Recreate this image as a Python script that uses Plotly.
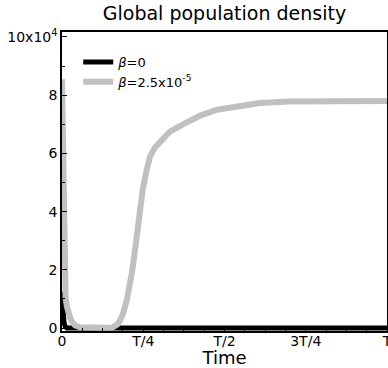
import plotly.graph_objects as go

# Time in units of the period T
t_gray = [0.0, 0.002, 0.004, 0.006, 0.008, 0.011, 0.015, 0.02, 0.025, 0.032, 0.04,
          0.055, 0.08, 0.11, 0.14, 0.155, 0.163, 0.17, 0.178, 0.188, 0.2, 0.208,
          0.215, 0.222, 0.228, 0.237, 0.249, 0.26, 0.271, 0.286, 0.302, 0.332,
          0.372, 0.425, 0.477, 0.548, 0.609, 0.7, 0.794, 0.9, 1.0]
# Population density (x10^4) with beta = 2.5e-5
n_gray = [8.55, 6.5, 4.0, 2.4, 1.5, 1.05, 0.75, 0.52, 0.35, 0.2, 0.1,
          0.03, 0.01, 0.005, 0.008, 0.02, 0.05, 0.12, 0.25, 0.5, 1.0, 1.4,
          1.9, 2.45, 3.0, 4.0, 4.8, 5.4, 5.9, 6.2, 6.4, 6.75,
          7.0, 7.3, 7.5, 7.65, 7.73, 7.78, 7.8, 7.8, 7.8]

# Population density (x10^4) with beta = 0
t_black = [0.0, 0.003, 0.006, 0.01, 0.015, 0.05, 0.25, 0.5, 0.75, 1.0]
n_black = [1.25, 0.55, 0.2, 0.05, 0.0, 0.0, 0.0, 0.0, 0.0, 0.0]

x_tickvals = [0, 0.25, 0.5, 0.75, 1.0]
x_ticktext = ["0", "T/4", "T/2", "3T/4", "T"]
y_tickvals = [0, 2, 4, 6, 8, 10]
y_ticktext = ["0", "2", "4", "6", "8", "10x10<sup>4</sup>"]

FONT = "DejaVu Sans"

fig = go.Figure()
fig.add_trace(go.Scatter(
    x=t_black, y=n_black, mode="lines", name="<i>β</i>=0",
    line=dict(color="black", width=5),
))
fig.add_trace(go.Scatter(
    x=t_gray, y=n_gray, mode="lines", name="<i>β</i>=2.5x10<sup>-5</sup>",
    line=dict(color="rgb(192,192,192)", width=6),
))

fig.update_layout(
    width=388, height=368,
    margin=dict(l=62, r=1, t=32, b=37),
    paper_bgcolor="white", plot_bgcolor="white",
    font=dict(family=FONT, size=14, color="black"),
    title=dict(text="Global population density", x=0.5, xref="paper",
               xanchor="center", y=1, yref="container", yanchor="top", pad=dict(t=7),
               font=dict(family=FONT, size=19, color="black")),
    showlegend=True,
    legend=dict(x=0.05, y=0.95, xanchor="left", yanchor="top",
                bgcolor="rgba(0,0,0,0)", font=dict(family=FONT, size=13),
                tracegroupgap=0),
)

fig.update_xaxes(
    range=[0, 1], tickmode="array", tickvals=x_tickvals, ticktext=x_ticktext,
    showline=True, linecolor="black", linewidth=1.5, mirror=True,
    ticks="inside", ticklen=5, tickcolor="black",
    minor=dict(dtick=1 / 16, ticks="inside", ticklen=3, tickcolor="black"),
    showgrid=False, zeroline=False, automargin=False,
    ticklabeloverflow="allow", ticklabelstandoff=-4,
    title=dict(text="Time", font=dict(family=FONT, size=18), standoff=10),
    tickfont=dict(size=14),
)
fig.update_yaxes(
    range=[-0.1, 10.17], tickmode="array", tickvals=y_tickvals, ticktext=y_ticktext,
    showline=True, linecolor="black", linewidth=1.5, mirror=True,
    ticks="inside", ticklen=5, tickcolor="black",
    minor=dict(dtick=1, ticks="inside", ticklen=3, tickcolor="black"),
    showgrid=False, zeroline=False, automargin=False,
    tickfont=dict(size=14),
)

fig.write_html("out.html")
